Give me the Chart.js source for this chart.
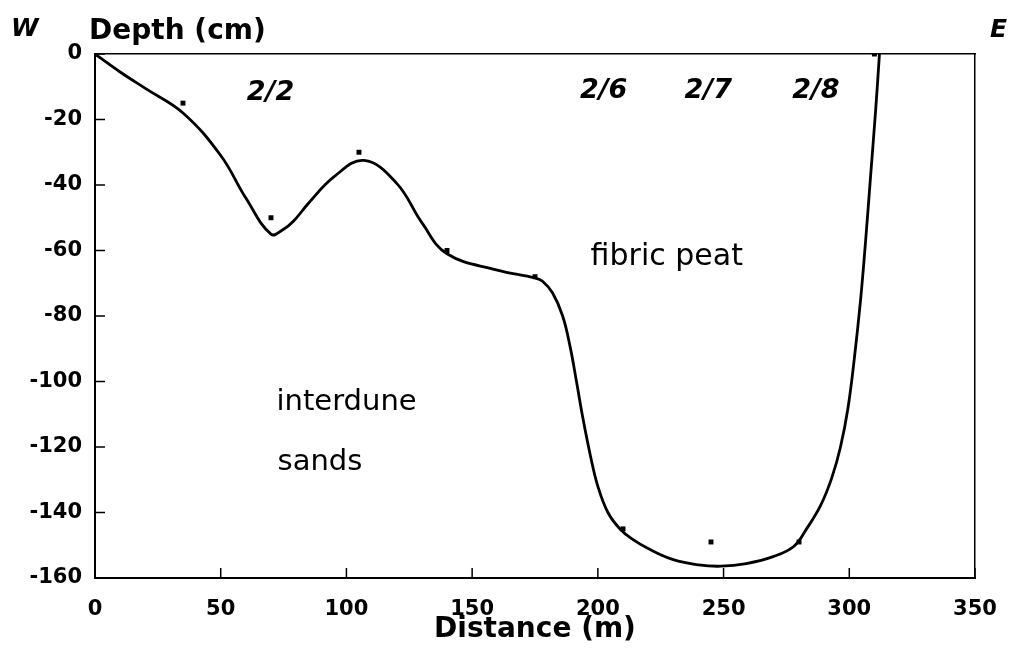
<!DOCTYPE html>
<html>
<head>
<meta charset="utf-8">
<script src="https://cdn.jsdelivr.net/npm/chart.js@4.4.1/dist/chart.umd.min.js"></script>
<style>
  body { margin:0; background:#fff; }
</style>
</head>
<body>
<canvas id="myChart" width="1018" height="658"></canvas>

<script>
// sample points (distance m, depth cm)
var sampleX = [0, 35, 70, 105, 140, 175, 210, 245, 280, 310];
var sampleY = [0, -15, -50, -30, -60, -68, -145, -149, -149, 0];

// fitted profile
var curveX = [0, 10, 20, 35, 50, 60, 70, 75, 79, 85, 95, 107, 120, 130, 140, 160, 175,
              178, 182, 186, 189, 191.5, 194, 197, 200, 204, 209, 214, 220, 230, 240, 249,
              259, 270, 278, 283, 288.5, 293, 296.5, 299.5, 302, 304.5, 306.5, 308.5, 310.5, 312];
var curveY = [0, -5.5, -10.5, -18, -31, -44, -55, -53.5, -51, -45.5, -37.5, -32.5, -39.5, -51.5, -61, -66, -68.4,
              -69.4, -73, -80, -89.5, -100, -111, -122.5, -132, -140, -145.2, -148.3, -151, -154.4, -156, -156.4,
              -155.6, -153.4, -150.3, -145, -138, -129.5, -120, -108, -93, -75, -57, -37, -17, 0];

// text on the plot, placed in data units
var noteText = ['2/2', '2/6', '2/7', '2/8', 'fibric peat', 'interdune', 'sands'];
var noteX    = [69.8, 202.3, 243.9, 286.7, 227.4, 72.2, 72.6];
var noteY    = [-13.9, -13.3, -13.3, -13.3, -64.3, -108.6, -126.9];

var curve = curveX.map(function(v, i){ return {x: v, y: curveY[i]}; });
var samples = sampleX.map(function(v, i){ return {x: v, y: sampleY[i]}; });

var extras = {
  id: 'extras',
  afterDraw: function(chart) {
    var ctx = chart.ctx, xs = chart.scales.x, ys = chart.scales.y, a = chart.chartArea;
    ctx.save();
    // inward ticks
    ctx.strokeStyle = '#000';
    ctx.lineWidth = 1.5;
    ctx.beginPath();
    xs.ticks.forEach(function(t){
      var px = xs.getPixelForValue(t.value);
      ctx.moveTo(px, a.bottom); ctx.lineTo(px, a.bottom - 10);
    });
    ys.ticks.forEach(function(t){
      var py = ys.getPixelForValue(t.value);
      ctx.moveTo(a.left, py); ctx.lineTo(a.left + 10, py);
    });
    ctx.stroke();

    ctx.fillStyle = '#000';
    ctx.textBaseline = 'alphabetic';
    noteText.forEach(function(t, i){
      var px = xs.getPixelForValue(noteX[i]);
      var py = ys.getPixelForValue(noteY[i]);
      if (t.indexOf('/') > 0) {
        ctx.font = 'italic bold 27px "DejaVu Sans"';
        ctx.textAlign = 'center';
      } else if (t == 'fibric peat') {
        ctx.font = '30px "DejaVu Sans"';
        ctx.textAlign = 'center';
      } else {
        ctx.font = '29px "DejaVu Sans"';
        ctx.textAlign = 'left';
      }
      ctx.fillText(t, px, py);
    });

    ctx.textAlign = 'left';
    ctx.font = 'italic bold 25px "DejaVu Sans"';
    ctx.fillText('W', 11, 36);
    ctx.fillText('E', 990, 37);
    ctx.font = 'bold 28px "DejaVu Sans"';
    ctx.fillText('Depth (cm)', 89, 39);
    ctx.restore();
  }
};

var ctx = document.getElementById('myChart');
var config = {
  type: 'line',
  data: {
    datasets: [{
      data: curve,
      borderColor: '#000',
      borderWidth: 2.8,
      pointRadius: 0,
      tension: 0.4,
      fill: false
    }, {
      type: 'scatter',
      data: samples,
      backgroundColor: '#000',
      borderColor: '#000',
      pointStyle: 'rect',
      pointRadius: 3.5,
      borderWidth: 0,
      showLine: false
    }]
  },
  options: {
    responsive: false,
    animation: false,
    layout: { padding: { left: 0, right: 43, top: 54, bottom: 0 } },
    plugins: { legend: { display: false }, tooltip: { enabled: false } },
    scales: {
      x: {
        type: 'linear', min: 0, max: 350,
        ticks: { stepSize: 50, padding: 19, color: '#000', font: { family: 'DejaVu Sans', size: 21, weight: 'bold' } },
        grid: { display: false, drawTicks: false },
        border: { display: true, color: '#000', width: 2 },
        title: { display: true, text: 'Distance (m)', color: '#000', padding: { top: 0, bottom: 11 },
                 font: { family: 'DejaVu Sans', size: 28, weight: 'bold' } },
        afterFit: function(s){ s.height = 80; }
      },
      y: {
        type: 'linear', min: -160, max: 0,
        ticks: { stepSize: 20, padding: 13, color: '#000', font: { family: 'DejaVu Sans', size: 21, weight: 'bold' } },
        grid: { display: false, drawTicks: false },
        border: { display: true, color: '#000', width: 2 },
        afterFit: function(s){ s.width = 95; }
      },
      x2: {
        type: 'linear', position: 'top', min: 0, max: 350,
        ticks: { display: false },
        grid: { display: false, drawTicks: false },
        border: { display: true, color: '#000', width: 1.5 },
        afterFit: function(s){ s.height = 0; }
      },
      y2: {
        type: 'linear', position: 'right', min: -160, max: 0,
        ticks: { display: false },
        grid: { display: false, drawTicks: false },
        border: { display: true, color: '#000', width: 1.5 },
        afterFit: function(s){ s.width = 0; }
      }
    }
  },
  plugins: [extras]
};
var myChart = new Chart(ctx, config);
</script>
</body>
</html>
